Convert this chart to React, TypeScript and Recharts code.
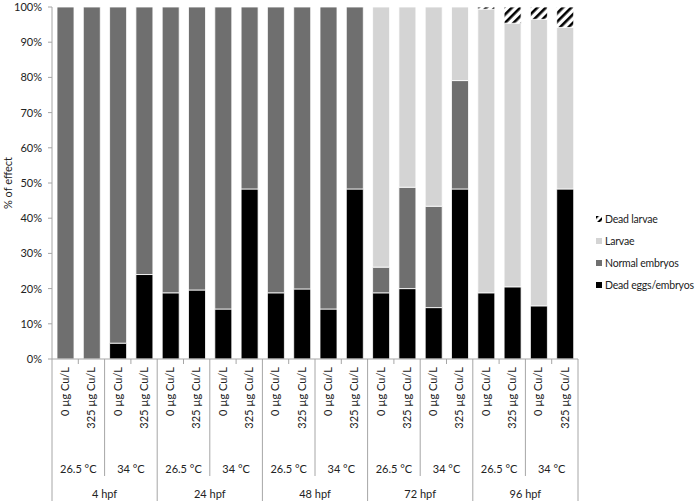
import React from 'react';
import { BarChart, Bar, XAxis, YAxis } from 'recharts';

const stages = ['4 hpf', '24 hpf', '48 hpf', '72 hpf', '96 hpf'];
const temps = ['26.5 °C', '34 °C'];
const concs = ['0 µg Cu/L', '325 µg Cu/L'];

const deadEggs = [0, 0, 4.5, 24, 18.8, 19.6, 14.2, 48.3, 18.8, 19.9, 14.2, 48.3, 18.8, 20, 14.6, 48.3, 18.8, 20.5, 15.1, 48.3];
const normalEmbryos = [100, 100, 95.5, 76, 81.2, 80.4, 85.8, 51.7, 81.2, 80.1, 85.8, 51.7, 7.3, 28.8, 28.8, 30.8, 0, 0, 0, 0];
const larvae = [0, 0, 0, 0, 0, 0, 0, 0, 0, 0, 0, 0, 73.9, 51.2, 56.6, 20.9, 80.6, 74.9, 81.4, 45.9];
const deadLarvae = [0, 0, 0, 0, 0, 0, 0, 0, 0, 0, 0, 0, 0, 0, 0, 0, 0.6, 4.6, 3.5, 5.8];

const yTicks = [0, 10, 20, 30, 40, 50, 60, 70, 80, 90, 100];

const series = [
  { key: 'deadEggs', name: 'Dead eggs/embryos', fill: '#000000' },
  { key: 'normal', name: 'Normal embryos', fill: '#6f6f6f' },
  { key: 'larvae', name: 'Larvae', fill: '#d4d4d4' },
  { key: 'deadLarvae', name: 'Dead larvae', fill: 'url(#hatch)' },
];

const data: any[] = [];
stages.forEach((s, si) => {
  temps.forEach((t, ti) => {
    concs.forEach((c, ci) => {
      const i = si * 4 + ti * 2 + ci;
      data.push({
        id: `${s}|${t}|${c}`,
        stage: s,
        temp: t,
        conc: c,
        deadEggs: deadEggs[i],
        normal: normalEmbryos[i],
        larvae: larvae[i],
        deadLarvae: deadLarvae[i],
      });
    });
  });
});

const W = 700;
const H = 502;
const M = { top: 7, right: 122, left: 0, bottom: 0 };
const Y_W = 52;
const X_H = 143;
const PLOT_W = W - M.right - Y_W;
const BAND = PLOT_W / data.length;
const AXIS = '#a6a6a6';
const FONT = 'Lato, "Liberation Sans", sans-serif';

const XTick = (props: any) => {
  const { x, y, payload } = props;
  const i = payload.index;
  const d = data[i];
  const left = x - BAND / 2;
  const els: any[] = [];
  let len = 5;
  if (i % 4 === 0) len = 142;
  else if (i % 2 === 0) len = 117;
  els.push(<line key="l" x1={left} y1={y} x2={left} y2={y + len} stroke={AXIS} strokeWidth={1} />);
  if (i === data.length - 1) {
    els.push(<line key="r" x1={x + BAND / 2} y1={y} x2={x + BAND / 2} y2={y + 142} stroke={AXIS} strokeWidth={1} />);
  }
  els.push(
    <text key="c" x={x} y={y + 8} transform={`rotate(-90 ${x} ${y + 8})`} textAnchor="end" dy="0.35em" fontSize={11} fill="#222" fontFamily={FONT}>
      {d.conc}
    </text>
  );
  if (i % 2 === 1) {
    els.push(
      <text key="t" x={x - BAND / 2} y={y + 110} textAnchor="middle" dy="0.35em" fontSize={11} fill="#222" fontFamily={FONT}>
        {d.temp}
      </text>
    );
  }
  if (i % 4 === 1) {
    els.push(
      <text key="s" x={x + BAND / 2} y={y + 135} textAnchor="middle" dy="0.35em" fontSize={11} fill="#222" fontFamily={FONT}>
        {d.stage}
      </text>
    );
  }
  return <g>{els}</g>;
};

const LegendMarker = ({ fill }: { fill: string }) => (
  <svg width={6} height={6} style={{ marginRight: 3, flex: 'none' }}>
    <defs>
      <pattern id="hatchL" patternUnits="userSpaceOnUse" width={5} height={5} patternTransform="rotate(45)">
        <rect x={0} y={0} width={2.2} height={5} fill="#000" />
      </pattern>
    </defs>
    <rect x={0} y={0} width={6} height={6} fill={fill === 'url(#hatch)' ? 'url(#hatchL)' : fill} />
  </svg>
);

export default function App() {
  const legendItems = [...series].reverse();
  return (
    <div style={{ position: 'absolute', left: 0, top: 0, width: W, height: H, background: '#fff' }}>
      <BarChart width={W} height={H} data={data} margin={M}>
        <defs>
          <pattern id="hatch" patternUnits="userSpaceOnUse" width={6} height={6} patternTransform="rotate(45)">
            <rect x={0} y={0} width={6} height={6} fill="#fff" />
            <rect x={0} y={0} width={2.6} height={6} fill="#000" />
          </pattern>
        </defs>
        <XAxis
          dataKey="id"
          interval={0}
          height={X_H}
          tickLine={false}
          tickSize={0}
          tickMargin={0}
          axisLine={{ stroke: AXIS }}
          tick={<XTick />}
        />
        <YAxis
          width={Y_W}
          domain={[0, 100]}
          ticks={yTicks}
          tickFormatter={(v: number) => `${v}%`}
          axisLine={{ stroke: AXIS }}
          tickLine={{ stroke: AXIS }}
          tickSize={4}
          tickMargin={6}
          tick={{ fontSize: 11, fill: '#222', fontFamily: FONT }}
          allowDataOverflow
        />
        {series.map((s) => (
          <Bar
            key={s.key}
            dataKey={s.key}
            name={s.name}
            stackId="a"
            fill={s.fill}
            stroke="#ffffff"
            strokeWidth={0.8}
            barSize={17}
            isAnimationActive={false}
          />
        ))}
      </BarChart>
      <svg style={{ position: 'absolute', left: 0, top: 0 }} width={20} height={H}>
        <text x={12} y={183} transform="rotate(-90 12 183)" textAnchor="middle" fontSize={11} fill="#222" fontFamily={FONT}>
          % of effect
        </text>
      </svg>
      <div style={{ position: 'absolute', left: 596, top: 208, fontFamily: FONT, fontSize: 10.5, letterSpacing: -0.2, color: '#222', whiteSpace: 'nowrap' }}>
        {legendItems.map((s) => (
          <div key={s.key} style={{ display: 'flex', alignItems: 'center', height: 22, whiteSpace: 'nowrap' }}>
            <LegendMarker fill={s.fill} />
            <span>{s.name}</span>
          </div>
        ))}
      </div>
    </div>
  );
}
